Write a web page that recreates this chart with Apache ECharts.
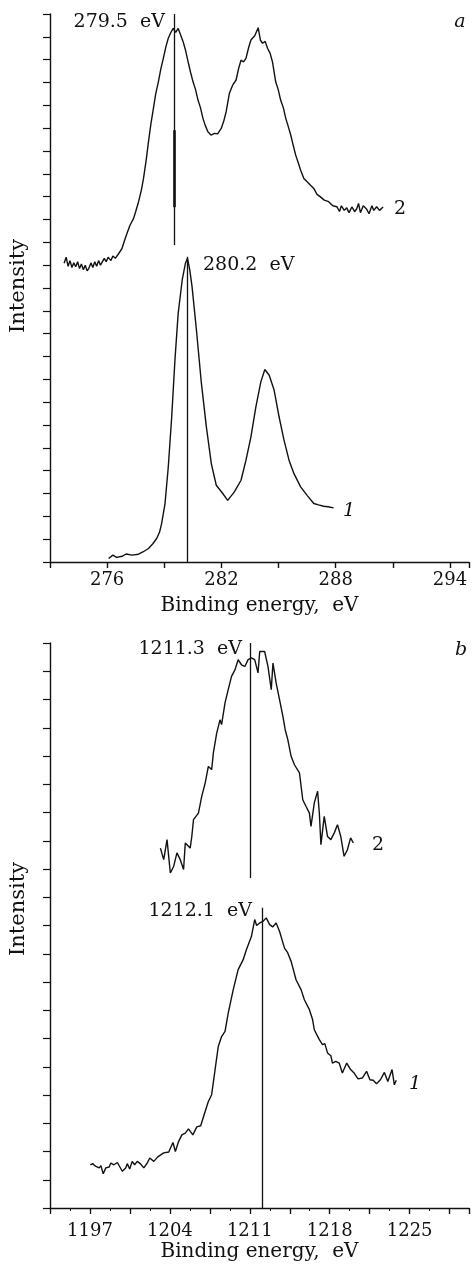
<!DOCTYPE html>
<html>
<head>
<meta charset="utf-8">
<script src="https://cdn.jsdelivr.net/npm/echarts@6/dist/echarts.min.js"></script>
<style>
  html, body { margin: 0; padding: 0; background: #fff; }
  #chart { width: 472px; height: 1267px; }
</style>
</head>
<body>
<div id="chart"></div>
<script>
// panel a, curve 2 (upper)
var energyA2 = [273.74, 273.85, 273.95, 274.05, 274.15, 274.25, 274.35, 274.45, 274.55, 274.65, 274.75, 274.85, 274.95, 275.04, 275.15, 275.25, 275.35, 275.45, 275.55, 275.65, 275.74, 275.85, 275.95, 276.05, 276.2, 276.3, 276.43, 276.6, 276.78, 276.9, 277.04, 277.2, 277.39, 277.5, 277.65, 277.8, 277.91, 278.05, 278.17, 278.3, 278.43, 278.55, 278.69, 278.82, 278.95, 279.08, 279.21, 279.35, 279.47, 279.6, 279.73, 279.85, 279.99, 280.12, 280.25, 280.38, 280.51, 280.64, 280.77, 280.9, 281.03, 281.16, 281.29, 281.45, 281.64, 281.8, 281.99, 282.12, 282.25, 282.42, 282.6, 282.77, 282.9, 283.03, 283.16, 283.29, 283.42, 283.55, 283.75, 283.93, 284.05, 284.16, 284.3, 284.42, 284.55, 284.68, 284.85, 284.98, 285.11, 285.25, 285.38, 285.5, 285.64, 285.77, 285.9, 286.03, 286.16, 286.33, 286.5, 286.68, 286.85, 287.02, 287.2, 287.4, 287.63, 287.85, 288.06, 288.2, 288.3, 288.45, 288.58, 288.7, 288.85, 289.0, 289.1, 289.2, 289.3, 289.45, 289.63, 289.75, 289.9, 290.0, 290.15, 290.3, 290.49];
var intensA2 = [13.08, 13.35, 12.95, 13.2, 12.9, 13.1, 12.93, 13.15, 12.85, 13.05, 12.8, 13.0, 12.75, 12.86, 13.1, 12.9, 13.15, 12.95, 13.2, 13.0, 13.08, 13.3, 13.15, 13.35, 13.2, 13.4, 13.3, 13.5, 13.73, 14.05, 14.39, 14.75, 15.05, 15.35, 15.78, 16.3, 16.8, 17.6, 18.4, 19.2, 19.87, 20.5, 21.03, 21.6, 22.06, 22.55, 22.94, 23.2, 23.37, 23.2, 23.37, 23.1, 22.79, 22.4, 21.91, 21.45, 21.03, 20.7, 20.23, 19.9, 19.43, 19.1, 18.84, 18.7, 18.77, 18.75, 18.99, 19.3, 19.72, 20.53, 20.9, 21.11, 21.6, 21.98, 21.9, 22.06, 22.5, 22.86, 23.05, 23.4, 22.85, 22.72, 22.8, 22.5, 22.3, 21.91, 21.03, 20.7, 20.23, 19.9, 19.43, 19.1, 18.7, 18.25, 17.82, 17.5, 17.16, 16.8, 16.65, 16.5, 16.36, 16.1, 15.99, 15.85, 15.78, 15.6, 15.56, 15.35, 15.6, 15.4, 15.51, 15.3, 15.55, 15.35, 15.46, 15.7, 15.3, 15.6, 15.45, 15.25, 15.6, 15.4, 15.56, 15.4, 15.55];

// panel a, curve 1 (lower)
var energyA1 = [276.08, 276.3, 276.5, 276.78, 277.0, 277.3, 277.65, 277.9, 278.17, 278.4, 278.6, 278.75, 278.86, 279.04, 279.21, 279.39, 279.56, 279.73, 279.94, 280.11, 280.22, 280.34, 280.46, 280.69, 280.95, 281.21, 281.47, 281.73, 282.07, 282.33, 282.68, 283.03, 283.29, 283.55, 283.81, 284.07, 284.28, 284.51, 284.77, 285.03, 285.29, 285.55, 285.81, 286.16, 286.5, 286.85, 287.1, 287.37, 287.6, 287.89];
var intensA1 = [0.15, 0.3, 0.2, 0.25, 0.35, 0.3, 0.34, 0.45, 0.59, 0.8, 1.03, 1.3, 1.68, 2.56, 4.16, 6.35, 8.84, 10.89, 12.34, 13.08, 13.3, 12.78, 12.05, 10.15, 7.82, 5.92, 4.31, 3.36, 3.0, 2.7, 3.07, 3.58, 4.46, 5.48, 6.79, 7.89, 8.43, 8.18, 7.52, 6.35, 5.33, 4.46, 3.87, 3.29, 2.92, 2.56, 2.5, 2.44, 2.42, 2.37];

// panel b, curve 2 (upper)
var energyB2 = [1203.17, 1203.46, 1203.75, 1204.04, 1204.33, 1204.62, 1204.91, 1205.2, 1205.35, 1205.78, 1205.92, 1206.07, 1206.5, 1206.79, 1207.09, 1207.37, 1207.66, 1207.81, 1208.1, 1208.39, 1208.53, 1208.83, 1209.11, 1209.4, 1209.7, 1209.98, 1210.27, 1210.57, 1210.85, 1211.14, 1211.43, 1211.72, 1211.87, 1212.3, 1212.59, 1212.88, 1213.03, 1213.31, 1213.61, 1213.9, 1214.1, 1214.33, 1214.62, 1214.91, 1215.35, 1215.64, 1215.92, 1216.22, 1216.36, 1216.65, 1216.94, 1217.09, 1217.23, 1217.52, 1217.81, 1218.1, 1218.39, 1218.68, 1218.97, 1219.26, 1219.55, 1219.83, 1220.07];
var intensB2 = [12.74, 12.33, 13.04, 11.86, 12.09, 12.57, 12.33, 11.98, 12.92, 12.74, 13.15, 13.75, 13.98, 14.57, 15.04, 15.63, 15.52, 16.11, 16.81, 17.28, 17.11, 17.88, 18.35, 18.82, 19.05, 19.41, 19.23, 19.17, 19.41, 19.47, 19.41, 18.94, 19.7, 19.7, 19.17, 18.35, 19.29, 18.58, 17.99, 17.4, 16.93, 16.58, 15.99, 15.69, 15.4, 14.45, 14.22, 13.98, 13.51, 14.34, 14.75, 13.98, 12.86, 13.86, 13.15, 13.04, 13.27, 13.57, 13.15, 12.45, 12.68, 13.1, 12.92];

// panel b, curve 1 (lower)
var energyB1 = [1197.03, 1197.23, 1197.52, 1197.81, 1197.96, 1198.16, 1198.39, 1198.68, 1198.83, 1199.11, 1199.4, 1199.83, 1200.13, 1200.27, 1200.48, 1200.7, 1200.91, 1201.14, 1201.43, 1201.72, 1202.01, 1202.24, 1202.59, 1202.94, 1203.46, 1203.9, 1204.27, 1204.48, 1204.77, 1205.05, 1205.35, 1205.63, 1206.01, 1206.36, 1206.7, 1207.0, 1207.37, 1207.66, 1207.96, 1208.24, 1208.53, 1208.83, 1209.11, 1209.55, 1209.98, 1210.42, 1210.7, 1211.14, 1211.43, 1211.6, 1211.87, 1212.16, 1212.44, 1212.74, 1213.0, 1213.31, 1213.61, 1214.04, 1214.3, 1214.62, 1215.05, 1215.49, 1215.78, 1216.22, 1216.5, 1216.65, 1217.09, 1217.37, 1217.57, 1217.81, 1218.1, 1218.24, 1218.53, 1218.83, 1219.11, 1219.49, 1219.83, 1220.13, 1220.48, 1220.85, 1221.23, 1221.52, 1221.81, 1222.1, 1222.44, 1222.79, 1223.09, 1223.46, 1223.66, 1223.83];
var intensB1 = [1.53, 1.57, 1.47, 1.42, 1.5, 1.21, 1.42, 1.45, 1.59, 1.53, 1.61, 1.3, 1.42, 1.57, 1.38, 1.65, 1.53, 1.65, 1.56, 1.42, 1.59, 1.77, 1.65, 1.81, 1.95, 1.98, 2.32, 2.0, 2.36, 2.59, 2.65, 2.8, 2.59, 2.87, 2.91, 3.3, 3.77, 4.01, 4.9, 5.72, 6.07, 6.25, 6.9, 7.73, 8.44, 8.79, 9.14, 9.61, 10.21, 10.0, 10.09, 10.15, 10.27, 10.03, 9.95, 10.09, 9.79, 9.2, 9.05, 8.73, 8.08, 7.73, 7.37, 7.02, 6.67, 6.31, 5.96, 5.78, 5.82, 5.49, 5.39, 5.13, 5.19, 5.13, 4.78, 5.13, 4.9, 4.78, 4.57, 4.6, 4.84, 4.54, 4.52, 4.4, 4.54, 4.8, 4.48, 4.9, 4.36, 4.52];

// peak marker positions (eV)
var peakA2 = 279.5, peakA1 = 280.2;
var peakB2 = 1211.05, peakB1 = 1212.1;

function pairs(xs, ys) {
  return xs.map(function (x, i) { return [x, ys[i]] })
}

var serif = 'DejaVu Serif'
var ink = '#111'

function vline(x, y0, y1, w) {
  return [{ coord: [x, y0], lineStyle: { width: w || 1.3 } }, { coord: [x, y1] }]
}

function xAxisOf(gi, min, max, step, every, margin, minor) {
  return {
    gridIndex: gi, type: 'value', min: min, max: max, interval: step,
    name: 'Binding energy,  eV', nameLocation: 'middle', nameGap: 34,
    nameTextStyle: { fontFamily: serif, fontSize: 20, color: ink },
    axisLine: { lineStyle: { color: ink, width: 1.4 } },
    axisTick: { length: 6, lineStyle: { color: ink, width: 1.4 } },
    minorTick: { show: !!minor, splitNumber: 2, length: 3, lineStyle: { color: ink } },
    splitLine: { show: false },
    axisLabel: {
      margin: margin, fontFamily: serif, fontSize: 18, color: ink,
      formatter: function (v) {
        var k = v / every
        return Math.abs(k - Math.round(k)) < 1e-6 ? String(Math.round(v)) : ''
      }
    }
  }
}

function yAxisOf(gi, max) {
  return {
    gridIndex: gi, type: 'value', min: 0, max: max, interval: 1,
    axisLine: { show: true, lineStyle: { color: ink, width: 1.4 } },
    axisTick: { show: true, length: 7, lineStyle: { color: ink, width: 1.2 } },
    axisLabel: { show: false },
    splitLine: { show: false }
  }
}

function curve(gi, data, marks) {
  return {
    type: 'line', xAxisIndex: gi, yAxisIndex: gi, data: data,
    showSymbol: false, silent: true, animation: false,
    lineStyle: { color: ink, width: 1.4 },
    markLine: marks ? {
      silent: true, symbol: 'none', animation: false,
      label: { show: false },
      lineStyle: { color: ink, type: 'solid', width: 1.3 },
      data: marks
    } : undefined
  }
}

function txt(x, y, s, opt) {
  opt = opt || {}
  return {
    type: 'text', x: x, y: y, rotation: opt.rot || 0,
    style: {
      text: s, fill: ink, fontFamily: serif,
      fontSize: opt.size || 19, fontStyle: opt.italic ? 'italic' : 'normal',
      align: opt.align || 'left', verticalAlign: 'middle'
    }
  }
}

var chart = echarts.init(document.getElementById('chart'))
chart.setOption({
  backgroundColor: '#fff',
  animation: false,
  grid: [
    { left: 50, top: 14, width: 422, height: 548 },
    { left: 50, top: 643, width: 422, height: 565 }
  ],
  xAxis: [
    xAxisOf(0, 273, 295, 3, 6, 9, false),
    xAxisOf(1, 1193.5, 1230.2, 3.5, 7, 14, true)
  ],
  yAxis: [yAxisOf(0, 24), yAxisOf(1, 20)],
  series: [
    curve(0, pairs(energyA2, intensA2), [
      vline(peakA2, 13.88, 24),
      vline(peakA2, 15.54, 18.91, 2.6)
    ]),
    curve(0, pairs(energyA1, intensA1), [vline(peakA1, 0, 13.37)]),
    curve(1, pairs(energyB2, intensB2), [vline(peakB2, 11.68, 20)]),
    curve(1, pairs(energyB1, intensB1), [vline(peakB1, 0, 10.63)])
  ],
  graphic: [
    txt(19, 286, 'Intensity', { rot: Math.PI / 2, align: 'center', size: 21 }),
    txt(19, 909, 'Intensity', { rot: Math.PI / 2, align: 'center', size: 21 }),
    txt(165, 22, '279.5  eV', { align: 'right' }),
    txt(203, 265, '280.2  eV'),
    txt(460, 22, 'a', { italic: true, align: 'center' }),
    txt(400, 209, '2', { align: 'center' }),
    txt(349, 511, '1', { italic: true, align: 'center' }),
    txt(242, 649, '1211.3  eV', { align: 'right' }),
    txt(461, 650, 'b', { italic: true, align: 'center' }),
    txt(378, 845, '2', { align: 'center' }),
    txt(252, 911, '1212.1  eV', { align: 'right' }),
    txt(415, 1084, '1', { italic: true, align: 'center' })
  ]
})
</script>
</body>
</html>
